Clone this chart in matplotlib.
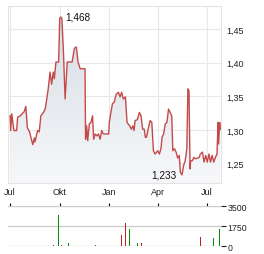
import matplotlib
matplotlib.use("Agg")
import matplotlib.pyplot as plt
import matplotlib.dates as mdates
import numpy as np
import pandas as pd
from matplotlib.colors import LinearSegmentedColormap

plt.rcParams['font.family'] = ['Liberation Sans', 'DejaVu Sans']

# ---------------- data ----------------
price_dates = [
    "2024-07-01", "2024-07-02", "2024-07-04", "2024-07-08", "2024-07-13", "2024-07-15",
    "2024-07-20", "2024-07-23", "2024-07-27", "2024-07-30", "2024-08-02", "2024-08-06",
    "2024-08-10", "2024-08-12", "2024-08-15", "2024-08-16", "2024-08-21", "2024-08-24",
    "2024-08-27", "2024-09-01", "2024-09-04", "2024-09-07", "2024-09-10", "2024-09-13",
    "2024-09-16", "2024-09-19", "2024-09-21", "2024-09-24", "2024-09-29", "2024-10-01",
    "2024-10-03", "2024-10-05", "2024-10-08", "2024-10-11", "2024-10-15", "2024-10-24",
    "2024-10-28", "2024-10-30", "2024-11-01", "2024-11-04", "2024-11-08", "2024-11-17",
    "2024-11-18", "2024-11-20", "2024-11-22", "2024-11-25", "2024-11-28", "2024-12-01",
    "2024-12-03", "2024-12-06", "2024-12-09", "2024-12-12", "2024-12-15", "2024-12-18",
    "2024-12-21", "2024-12-24", "2024-12-31", "2025-01-01", "2025-01-04", "2025-01-07",
    "2025-01-10", "2025-01-14", "2025-01-18", "2025-01-21", "2025-01-24", "2025-01-27",
    "2025-01-31", "2025-02-03", "2025-02-08", "2025-02-11", "2025-02-14", "2025-02-16",
    "2025-02-18", "2025-02-22", "2025-02-26", "2025-03-01", "2025-03-04", "2025-03-07",
    "2025-03-09", "2025-03-11", "2025-03-15", "2025-03-18", "2025-03-21", "2025-03-24",
    "2025-03-27", "2025-04-01", "2025-04-04", "2025-04-07", "2025-04-09", "2025-04-12",
    "2025-04-15", "2025-04-18", "2025-04-21", "2025-04-24", "2025-04-27", "2025-04-29",
    "2025-05-02", "2025-05-05", "2025-05-08", "2025-05-11", "2025-05-13", "2025-05-16",
    "2025-05-19", "2025-05-22", "2025-05-25", "2025-05-27", "2025-05-29", "2025-05-31",
    "2025-06-01", "2025-06-04", "2025-06-07", "2025-06-10", "2025-06-17", "2025-06-19",
    "2025-06-23", "2025-06-26", "2025-06-29", "2025-07-02", "2025-07-05", "2025-07-08",
    "2025-07-11", "2025-07-14", "2025-07-17", "2025-07-20", "2025-07-22", "2025-07-23",
    "2025-07-25", "2025-07-26",
]
price_values = [
    1.321, 1.299, 1.324, 1.299, 1.299, 1.319,
    1.321, 1.324, 1.327, 1.335, 1.303, 1.297,
    1.284, 1.278, 1.288, 1.282, 1.299, 1.297,
    1.321, 1.326, 1.331, 1.346, 1.363, 1.386,
    1.368, 1.386, 1.376, 1.401, 1.401, 1.466,
    1.468, 1.466, 1.415, 1.346, 1.401, 1.401,
    1.420, 1.423, 1.423, 1.401, 1.391, 1.391,
    1.286, 1.306, 1.284, 1.309, 1.311, 1.321,
    1.286, 1.294, 1.291, 1.294, 1.286, 1.299,
    1.294, 1.294, 1.294, 1.311, 1.326, 1.339,
    1.341, 1.353, 1.356, 1.349, 1.356, 1.346,
    1.349, 1.311, 1.306, 1.301, 1.306, 1.299,
    1.314, 1.315, 1.326, 1.321, 1.301, 1.301,
    1.289, 1.289, 1.304, 1.314, 1.311, 1.269,
    1.264, 1.269, 1.264, 1.272, 1.289, 1.294,
    1.309, 1.311, 1.331, 1.326, 1.321, 1.269,
    1.272, 1.267, 1.258, 1.262, 1.237, 1.233,
    1.247, 1.254, 1.272, 1.361, 1.358, 1.242,
    1.254, 1.254, 1.259, 1.257, 1.259, 1.264,
    1.267, 1.252, 1.262, 1.252, 1.264, 1.252,
    1.262, 1.252, 1.259, 1.264, 1.311, 1.279,
    1.311, 1.301,
]

volume_dates = ["2024-09-19", "2024-09-29", "2024-10-04", "2024-10-17", "2024-12-07",
                "2025-01-24", "2025-01-31", "2025-02-08", "2025-02-22", "2025-03-02",
                "2025-06-19", "2025-07-14", "2025-07-25"]
volume_values = [110, 2770, 100, 290, 100, 990, 2040, 1510, 290, 290, 810, 730, 1510]
volume_dir = ["up", "up", "down", "up", "up", "down", "down", "up", "up", "down",
              "down", "up", "up"]

tick_dates = ["2024-07-01", "2024-10-01", "2025-01-01", "2025-04-01", "2025-07-01"]
tick_labels = ["Jul", "Okt", "Jan", "Apr", "Jul"]
price_ticks = [1.25, 1.30, 1.35, 1.40, 1.45]
volume_ticks = [0, 1750, 3500]

# ---------------- figure ----------------
W, H = 264, 255
fig = plt.figure(figsize=(W / 100, H / 100), dpi=100)

x = mdates.date2num(pd.to_datetime(price_dates))
y = np.array(price_values)
xlim = (mdates.date2num(pd.Timestamp("2024-06-27")), mdates.date2num(pd.Timestamp("2025-07-28")))
ylim = (1.2205, 1.4848)

ax = fig.add_axes([8 / W, 1 - 184.3 / H, (221.3 - 8) / W, (184.3 - 6.7) / H])
ax.set_xlim(*xlim)
ax.set_ylim(*ylim)

# gradient fill under line
poly = ax.fill_between(x, y, ylim[0], color='none', lw=0)
cmap = LinearSegmentedColormap.from_list("g", ["#f7f8fa", "#d3dbe3"])
grad = np.linspace(0, 1, 256).reshape(-1, 1)
img = ax.imshow(grad, extent=[xlim[0], xlim[1], ylim[0], ylim[1]], origin='lower',
                aspect='auto', cmap=cmap, zorder=1)
img.set_clip_path(poly.get_paths()[0], transform=ax.transData)

ax.plot(x, y, color='#c44a4a', lw=1.0, zorder=3)

tick_x = mdates.date2num(pd.to_datetime(tick_dates))
ax.set_xticks(tick_x)
ax.set_xticklabels(tick_labels)
ax.set_yticks(price_ticks)
ax.set_yticklabels([f"{v:.2f}".replace(".", ",") for v in price_ticks])
ax.yaxis.tick_right()
ax.tick_params(axis='both', length=0, labelsize=6.5, colors='#222222')
ax.tick_params(axis='x', pad=3)
ax.tick_params(axis='y', pad=3.5)
ax.grid(True, color='#e8e8e8', lw=0.8, zorder=0)
ax.set_axisbelow(True)
for s in ax.spines.values():
    s.set_color('#e4e4e4')
    s.set_linewidth(0.8)

# annotations for max / min
imax = int(np.argmax(y))
imin = int(np.argmin(y))
ax.annotate(f"{y[imax]:.3f}".replace(".", ","), (x[imax], y[imax]), xytext=(3, 0),
            textcoords='offset points', ha='left', va='center', fontsize=7.2, color='#111111')
ax.annotate(f"{y[imin]:.3f}".replace(".", ","), (x[imin], y[imin]), xytext=(-4, 0),
            textcoords='offset points', ha='right', va='center', fontsize=7.2, color='#111111')

# ---------------- volume ----------------
ax2 = fig.add_axes([8 / W, 1 - 247.3 / H, (221.3 - 8) / W, (247.3 - 207.3) / H])
ax2.set_xlim(*xlim)
ax2.set_ylim(0, 3500)
vx = mdates.date2num(pd.to_datetime(volume_dates))
vcol = ['#0a8a0a' if d == "up" else '#c02020' for d in volume_dir]
ax2.bar(vx, volume_values, width=1.6, color=vcol, zorder=3)
for s in ax2.spines.values():
    s.set_visible(False)
ax2.set_yticks(volume_ticks)
ax2.set_yticklabels([str(v) for v in volume_ticks])
ax2.yaxis.tick_right()
ax2.tick_params(axis='y', length=3.5, width=0.8, colors='#222222', labelsize=6.3, pad=1)
ax2.grid(True, axis='y', color='#cccccc', lw=1.0, zorder=0)
ax2.set_xticks(tick_x)
ax2.tick_params(axis='x', top=True, bottom=False, labeltop=False, labelbottom=False,
                direction='out', length=2, width=0.8, color='black')

fig.savefig("out.png", dpi=100)
